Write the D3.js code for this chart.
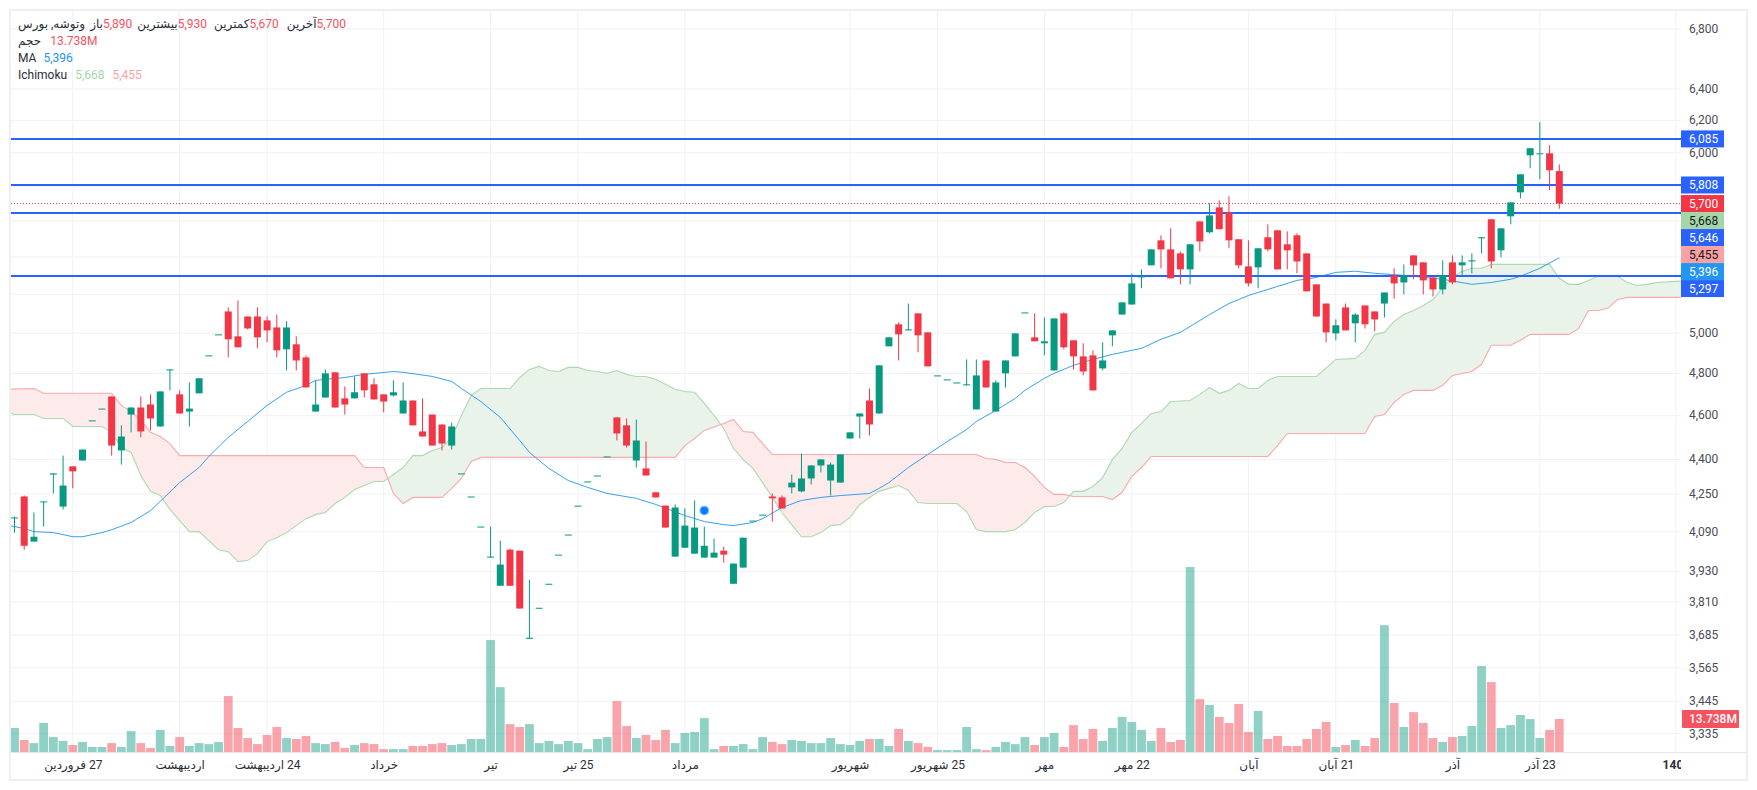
<!DOCTYPE html>
<html>
<head>
<meta charset="utf-8">
<script src="https://cdn.jsdelivr.net/npm/d3@7"></script>
<style>
  html, body { margin: 0; padding: 0; background: #fff; }
  svg { display: block; }
  text { font-family: Roboto, "DejaVu Sans", sans-serif; font-size: 12px; }
</style>
</head>
<body>
<div id="chart"></div>
<script>
// Daily candles
const opens = [
  4146,4239,4050,4214,4334,4196,4370,4396,4578,4633,
  4690,4441,4605,4638,4652,4550,4815,4700,4619,4705,
  4889,4994,5111,4984,5085,5085,5065,5029,4919,4944,
  4879,4619,4685,4806,4681,4681,4801,4748,4700,4695,
  4610,4671,4527,4605,4559,4463,4339,4239,4112,3985,
  3873,4017,4013,3671,3788,3881,3997,4079,4200,4304,
  4330,4414,4592,4555,4396,4361,4257,4200,3989,4025,
  4001,3985,3985,4013,3881,3945,4137,4162,4239,4235,
  4278,4261,4317,4374,4308,4299,4495,4596,4671,4610,
  4934,5045,5014,5101,5004,4791,4772,4757,4743,4629,
  4864,4619,4801,4884,5106,4979,4949,4815,5101,4964,
  4884,4889,4825,4989,5095,5147,5290,5355,5492,5442,
  5420,5333,5598,5537,5678,5650,5498,5349,5344,5509,
  5548,5470,5520,5420,5253,5152,4999,5132,5050,5142,
  5111,5152,5301,5263,5409,5371,5290,5226,5371,5355,
  5376,5503,5610,5437,5627,5765,5985,5991,5997,5890
];
const highs = [
  4154,4243,4171,4218,4339,4418,4370,4445,4578,4633,
  4690,4555,4638,4690,4700,4714,4820,4719,4757,4777,
  4889,4994,5132,5168,5085,5132,5085,5095,5060,4984,
  4889,4767,4820,4806,4738,4786,4801,4777,4700,4767,
  4757,4671,4681,4605,4559,4568,4339,4239,4112,4112,
  4054,4021,4013,3897,3788,3881,3997,4079,4200,4304,
  4330,4414,4592,4587,4582,4481,4257,4200,4205,4188,
  4222,4112,4062,4029,3961,4066,4137,4162,4252,4243,
  4334,4427,4374,4401,4387,4423,4523,4610,4728,4840,
  4979,5055,5152,5101,5004,4791,4772,4757,4869,4869,
  4864,4767,4864,4999,5106,5101,5080,5075,5106,4964,
  4949,4914,4954,5014,5158,5312,5333,5442,5520,5559,
  5431,5470,5598,5702,5719,5742,5498,5492,5448,5582,
  5548,5542,5531,5420,5253,5152,5070,5152,5101,5142,
  5111,5210,5339,5360,5409,5371,5290,5382,5409,5409,
  5420,5509,5610,5559,5707,5871,6028,6189,6046,5930
];
const lows = [
  4087,4017,4050,4112,4252,4184,4274,4396,4578,4633,
  4418,4378,4523,4500,4532,4550,4719,4610,4550,4705,
  4889,4994,4879,4929,5019,4924,4954,4879,4815,4815,
  4733,4619,4685,4638,4605,4681,4685,4676,4615,4690,
  4610,4555,4504,4463,4441,4445,4339,4239,4112,3985,
  3873,3873,3785,3671,3788,3881,3997,4079,4200,4304,
  4330,4414,4486,4454,4365,4330,4235,4108,3989,4025,
  4001,3985,3985,3965,3881,3945,4137,4162,4133,4188,
  4252,4257,4291,4343,4243,4299,4495,4495,4509,4610,
  4934,4864,5014,4904,4835,4791,4772,4757,4743,4629,
  4733,4619,4733,4884,5106,4959,4889,4815,4919,4820,
  4791,4719,4815,4934,5095,5147,5232,5355,5339,5285,
  5253,5253,5431,5531,5554,5448,5339,5242,5232,5431,
  5333,5333,5312,5216,5085,4954,4964,5014,4954,5024,
  5009,5080,5178,5200,5280,5200,5189,5200,5253,5301,
  5312,5420,5339,5398,5582,5730,5907,5842,5777,5670
];
const closes = [
  4150,4033,4070,4218,4339,4286,4348,4445,4578,4633,
  4463,4504,4638,4527,4587,4714,4820,4610,4633,4777,
  4889,4994,4969,4929,5024,4979,5014,4914,5029,4864,
  4733,4652,4801,4638,4652,4710,4719,4676,4666,4710,
  4671,4555,4504,4463,4472,4550,4339,4239,4112,3989,
  3957,3873,3785,3675,3788,3881,3997,4079,4200,4304,
  4330,4414,4518,4463,4486,4330,4235,4108,4192,4116,
  4108,4033,4005,3997,3961,4066,4137,4162,4231,4188,
  4299,4317,4374,4401,4378,4423,4523,4610,4559,4840,
  4979,4994,5019,4989,4835,4791,4772,4757,4748,4791,
  4733,4757,4864,4999,5106,4959,4959,5075,4929,4884,
  4810,4719,4864,5014,5158,5258,5296,5442,5442,5285,
  5333,5470,5486,5632,5554,5492,5355,5258,5448,5442,
  5333,5437,5376,5216,5085,5004,5040,5014,5095,5045,
  5070,5210,5258,5301,5355,5274,5226,5301,5263,5371,
  5382,5509,5376,5559,5707,5871,6028,5997,5895,5700
];
// Volume, millions
const volumes = [
  10,5,3.7,12.1,6.2,4.6,2.9,4.2,2.1,2.1,
  3.7,2.1,8.7,3.7,1.7,9.2,2.5,6.2,2.5,3.7,
  3.3,4.2,23.3,10,5.8,3.3,7.1,10.4,5.8,5.4,
  6.7,3.7,3.3,4.2,1.7,2.9,3.7,3.3,1.2,1.2,
  1.2,2.5,2.5,3.3,3.7,2.9,3.3,5.4,5.4,46.6,
  27,11.6,10.4,11.6,3.7,4.6,3.3,4.6,3.7,1.2,
  5.4,6.2,21.2,10.8,5.8,7.1,5,9.2,3.7,7.9,
  8.3,14.1,1.2,2.5,2.5,3.3,1.2,6.2,4.2,3.3,
  5,4.6,3.7,3.7,5.8,3.3,2.9,4.6,5.4,5.4,
  2.5,9.6,4.6,3.7,2.1,0.8,0.8,0.8,10.4,1.2,
  0.8,2.1,4.2,3.3,6.2,2.9,6.2,7.9,2.1,11.2,
  5.4,9.6,4.6,10,14.6,12.5,9.2,4.6,10,4.2,
  5,77,22,19.6,14.6,12.1,20,8.3,17.1,5.4,
  6.7,2.5,2.5,5.4,9.6,12.5,2.1,2.9,5,2.5,
  5.8,52.8,20.4,10.4,16.6,12.1,5.8,4.2,6.2,6.7,
  10.8,35.8,29.1,10,11.2,15.4,13.7,5.8,9.2,13.738
];

// Ichimoku span A: bar number, value
const spanAIdx = [-1,0,2,3,5,6,9,10,11,12,13,14,15,16,17,18,19,20,21,22,23,24,25,26,27,28,29,30,31,32,33,34,35,36,37,38,39,40,41,42,43,44,45,46,47,48,51,52,53,54,55,56,57,58,59,60,61,62,63,64,65,66,67,68,69,70,71,72,73,74,75,76,77,78,79,80,81,82,83,84,85,86,87,88,89,90,91,92,93,94,97,98,99,100,102,103,104,105,106,107,108,109,110,111,112,113,114,115,116,117,118,119,121,122,123,124,125,126,127,128,129,130,134,136,138,139,140,141,142,143,144,145,146,147,148,149,150,151,152,158,159,160,161,162,163,165,166,167,168,169,171,173];
const spanA = [4620,4605,4605,4587,4587,4550,4550,4523,4454,4432,4330,4261,4243,4184,4137,4091,4091,4054,4017,4009,3969,3973,4001,4050,4066,4087,4116,4145,4162,4171,4209,4235,4269,4286,4304,4304,4334,4365,4418,4418,4441,4454,4500,4601,4695,4728,4728,4781,4820,4835,4815,4810,4830,4830,4815,4810,4801,4815,4796,4786,4786,4772,4748,4724,4714,4710,4657,4601,4541,4450,4400,4361,4299,4235,4171,4120,4070,4070,4087,4116,4120,4150,4205,4235,4261,4274,4286,4265,4213,4209,4209,4175,4099,4091,4091,4099,4129,4171,4196,4196,4213,4261,4261,4282,4321,4401,4450,4523,4564,4610,4619,4666,4671,4700,4733,4705,4719,4752,4728,4728,4767,4786,4786,4869,4874,4914,4994,5004,5060,5095,5116,5142,5173,5237,5290,5323,5339,5339,5360,5360,5285,5253,5253,5274,5296,5296,5263,5247,5253,5263,5269,5274];

// Ichimoku span B
const spanBIdx = [-1,2,3,10,11,12,13,14,15,16,17,35,36,38,39,40,41,44,45,46,47,48,68,69,70,71,73,74,75,76,77,78,99,100,101,102,103,104,105,106,107,108,109,112,113,114,115,116,117,129,130,131,139,140,141,142,143,144,146,147,148,150,151,152,154,155,156,160,161,162,163,164,165,166,173];
const spanB = [4724,4728,4705,4705,4648,4619,4578,4523,4504,4472,4418,4418,4365,4365,4252,4209,4235,4235,4274,4317,4392,4410,4410,4463,4495,4532,4564,4582,4527,4523,4472,4423,4423,4405,4401,4387,4387,4365,4326,4278,4248,4248,4239,4239,4226,4257,4326,4365,4414,4414,4463,4518,4518,4596,4605,4662,4700,4719,4719,4743,4791,4810,4845,4939,4939,4964,4994,4994,5024,5116,5116,5127,5173,5184,5184];

// Moving average
const maIdx = [-1,1,2,4,6,7,9,10,12,14,15,17,19,20,22,24,26,28,30,31,34,36,39,40,43,45,46,48,50,52,53,55,57,59,61,64,66,69,71,73,74,76,77,79,81,83,85,88,89,90,92,94,96,98,99,101,103,104,106,107,109,111,113,116,118,120,123,125,127,130,132,134,136,138,140,143,147,150,152,154,155,157,159];
const ma = [4120,4104,4091,4087,4070,4070,4087,4099,4129,4179,4218,4299,4365,4414,4500,4573,4648,4710,4743,4767,4781,4796,4810,4806,4786,4762,4728,4666,4592,4486,4432,4361,4308,4278,4252,4231,4205,4158,4133,4120,4116,4129,4145,4192,4222,4235,4243,4252,4274,4299,4365,4423,4481,4536,4573,4624,4681,4719,4777,4801,4840,4869,4894,4924,4969,5004,5095,5152,5194,5242,5274,5290,5317,5323,5312,5301,5280,5253,5263,5280,5296,5339,5396];

// Price scale and time scale
const priceTicks = [6800,6400,6200,6000,5800,5600,5400,5200,5000,4800,4600,4400,4250,4090,3930,3810,3685,3565,3445,3335];
// these four sit behind the price tags, so only their grid line shows
const hiddenPriceLabels = [5800,5600,5400,5200];
const timeTickIdx = [6,17,26,38,49,58,69,86,95,106,115,127,136,148,157,171];
const timeTickLabels = ["27 فروردین","اردیبهشت","24 اردیبهشت","خرداد","تیر","25 تیر","مرداد","شهریور","25 شهریور","مهر","22 مهر","آبان","21 آبان","آذر","23 آذر","1404"];

// Horizontal levels, price tags, marker
const levels = [6085,5808,5646,5297];
const lastPrice = 5700;
const lastVolume = 13.738;
const priceTags = [
  { v: 6085, bg: "#2962ff", fg: "#fff" },
  { v: 5808, bg: "#2962ff", fg: "#fff" },
  { v: 5700, bg: "#f23645", fg: "#fff" },
  { v: 5668, bg: "#a5d6a7", fg: "#131722" },
  { v: 5646, bg: "#2962ff", fg: "#fff" },
  { v: 5455, bg: "#faa1a4", fg: "#131722" },
  { v: 5396, bg: "#2196f3", fg: "#fff" },
  { v: 5297, bg: "#2962ff", fg: "#fff" }
];
const markerIdx = 71;
const markerValue = 4179;

const width = 1757;
const height = 790;
const plotLeft = 11;
const plotRight = 1681;
const plotTop = 11;
const plotBottom = 752;

const green = "#089981";
const red = "#f23645";
const gridColor = "#f0f1f4";

const x = d3.scaleLinear().domain([0, 159]).range([14.5, 1559.3]);
const y = d3.scaleLog().domain([3274, 6932]).range([plotBottom, 10]);
const vol = d3.scaleLinear().domain([0, 77]).range([plotBottom, 567]);

const svg = d3.select("#chart").append("svg")
  .attr("width", width)
  .attr("height", height);

const defs = svg.append("defs");
defs.append("clipPath").attr("id", "plotClip").append("rect")
  .attr("x", plotLeft).attr("y", plotTop)
  .attr("width", plotRight - plotLeft).attr("height", plotBottom - plotTop);

const plot = svg.append("g").attr("clip-path", "url(#plotClip)");

// Grid
plot.append("g").selectAll("line")
  .data(priceTicks)
  .enter().append("line")
  .attr("x1", plotLeft).attr("x2", plotRight)
  .attr("y1", (d) => y(d)).attr("y2", (d) => y(d))
  .attr("stroke", gridColor).attr("stroke-width", 1);

plot.append("g").selectAll("line")
  .data(timeTickIdx)
  .enter().append("line")
  .attr("x1", (d) => x(d)).attr("x2", (d) => x(d))
  .attr("y1", plotTop).attr("y2", plotBottom)
  .attr("stroke", gridColor).attr("stroke-width", 1);

// Volume bars
plot.append("g").selectAll("rect")
  .data(volumes)
  .enter().append("rect")
  .attr("x", (d, i) => x(i) - 4.4)
  .attr("width", 8.8)
  .attr("y", (d) => vol(d))
  .attr("height", (d) => plotBottom - vol(d))
  .attr("fill", (d, i) => (closes[i] >= opens[i] ? green : red))
  .attr("opacity", 0.45);

// Ichimoku cloud: one outline, clipped either side of span A
const aPoints = spanAIdx.map((d, i) => [x(d), y(spanA[i])]);
const bPoints = spanBIdx.map((d, i) => [x(d), y(spanB[i])]);
const line = d3.line();
const cloudPath = line(aPoints.concat(bPoints.slice().reverse())) + "Z";
const aFirst = aPoints[0][0];
const aLast = aPoints[aPoints.length - 1][0];

defs.append("clipPath").attr("id", "belowA").append("path")
  .attr("d", line(aPoints.concat([[aLast, height], [aFirst, height]])) + "Z");
defs.append("clipPath").attr("id", "aboveA").append("path")
  .attr("d", line(aPoints.concat([[aLast, 0], [aFirst, 0]])) + "Z");

plot.append("path").attr("d", cloudPath)
  .attr("fill", "#e9f3ea").attr("clip-path", "url(#belowA)");
plot.append("path").attr("d", cloudPath)
  .attr("fill", "#fdeaea").attr("clip-path", "url(#aboveA)");

plot.append("path").attr("d", line(bPoints))
  .attr("fill", "none").attr("stroke", "#faa1a4").attr("stroke-width", 1.1).attr("opacity", 0.9);
plot.append("path").attr("d", line(aPoints))
  .attr("fill", "none").attr("stroke", "#a5d6a7").attr("stroke-width", 1.1).attr("opacity", 0.9);

// Moving average
plot.append("path")
  .attr("d", line(maIdx.map((d, i) => [x(d), y(ma[i])])))
  .attr("fill", "none").attr("stroke", "#2196f3").attr("stroke-width", 1).attr("opacity", 0.9);

// Level lines
plot.append("g").selectAll("line")
  .data(levels)
  .enter().append("line")
  .attr("x1", plotLeft).attr("x2", plotRight)
  .attr("y1", (d) => y(d)).attr("y2", (d) => y(d))
  .attr("stroke", "#2962ff").attr("stroke-width", 2);

// Last price line
plot.append("line")
  .attr("x1", plotLeft).attr("x2", plotRight)
  .attr("y1", y(lastPrice)).attr("y2", y(lastPrice))
  .attr("stroke", red).attr("stroke-width", 1)
  .attr("stroke-dasharray", "1 2");

// Candles
const candles = plot.append("g").selectAll("g")
  .data(opens)
  .enter().append("g")
  .attr("fill", (d, i) => (closes[i] >= d ? green : red))
  .attr("stroke", (d, i) => (closes[i] >= d ? green : red));

candles.append("line")
  .attr("x1", (d, i) => x(i)).attr("x2", (d, i) => x(i))
  .attr("y1", (d, i) => y(highs[i]))
  .attr("y2", (d, i) => y(lows[i]))
  .attr("stroke-width", 1);

candles.append("rect")
  .attr("x", (d, i) => x(i) - 3.5)
  .attr("width", 7)
  .attr("y", (d, i) => y(Math.max(d, closes[i])))
  .attr("height", (d, i) => Math.max(1, Math.abs(y(d) - y(closes[i]))))
  .attr("stroke", "none");

// Marker dot
plot.append("circle")
  .attr("cx", x(markerIdx)).attr("cy", y(markerValue)).attr("r", 5)
  .attr("fill", "#2196f3").attr("opacity", 0.5);
plot.append("circle")
  .attr("cx", x(markerIdx)).attr("cy", y(markerValue)).attr("r", 3.8)
  .attr("fill", "#0a7cff");

// Pane separator
svg.append("line")
  .attr("x1", plotLeft).attr("x2", 1746)
  .attr("y1", plotBottom + 0.5).attr("y2", plotBottom + 0.5)
  .attr("stroke", "#e3e5ec").attr("stroke-width", 1);

// Time axis
const timeAxis = svg.append("g")
  .attr("transform", `translate(0,${plotBottom + 3})`)
  .call(d3.axisBottom(x)
    .tickValues(timeTickIdx)
    .tickFormat((d, i) => timeTickLabels[i])
    .tickSize(0)
    .tickPadding(5));
timeAxis.select(".domain").remove();
timeAxis.selectAll("text")
  .style("font-family", 'Roboto, "DejaVu Sans", sans-serif')
  .style("font-size", "12px")
  .style("direction", "rtl")
  .attr("fill", "#2a2e39")
  .style("font-weight", (d, i) => (i === timeTickIdx.length - 1 ? "700" : "400"));

// Price axis sits on a white strip that cuts the last time label
svg.append("rect")
  .attr("x", plotRight).attr("y", plotTop)
  .attr("width", 1747 - plotRight).attr("height", plotBottom - plotTop)
  .attr("fill", "#fff");
svg.append("rect")
  .attr("x", plotRight).attr("y", plotBottom + 1)
  .attr("width", 1747 - plotRight).attr("height", 27)
  .attr("fill", "#fff");

const priceAxis = svg.append("g")
  .attr("transform", `translate(${plotRight},-0.5)`)
  .call(d3.axisRight(y)
    .tickValues(priceTicks.filter((d) => !hiddenPriceLabels.includes(d)))
    .tickFormat(d3.format(","))
    .tickSize(0)
    .tickPadding(8));
priceAxis.select(".domain").remove();
priceAxis.selectAll("text")
  .style("font-family", 'Roboto, "DejaVu Sans", sans-serif')
  .style("font-size", "12px")
  .attr("fill", "#4a4d57");

// Price tags, pushed down so they do not overlap
const tagHeight = 17;
let tagBottom = 0;
const tagCentres = priceTags.map((t) => {
  const c = Math.max(y(t.v), tagBottom + tagHeight / 2);
  tagBottom = c + tagHeight / 2;
  return c;
});

const tags = svg.append("g").selectAll("g")
  .data(priceTags)
  .enter().append("g")
  .attr("transform", (d, i) => `translate(${plotRight},${tagCentres[i]})`);
tags.append("rect")
  .attr("y", -tagHeight / 2)
  .attr("width", 43)
  .attr("height", tagHeight)
  .attr("fill", (d) => d.bg);
tags.append("text")
  .attr("x", 8)
  .attr("dy", "0.36em")
  .attr("fill", (d) => d.fg)
  .text((d) => d3.format(",")(d.v));

// Volume tag
svg.append("rect")
  .attr("x", plotRight + 1)
  .attr("y", vol(lastVolume) - 9)
  .attr("width", 57)
  .attr("height", 18)
  .attr("rx", 1)
  .attr("fill", "#f7525f");
svg.append("text")
  .attr("x", plotRight + 8)
  .attr("y", vol(lastVolume))
  .attr("dy", "0.36em")
  .attr("fill", "#fff")
  .style("font-weight", 500)
  .text(`${lastVolume}M`);

// Legend rows
const legendRows = [
  [
    { t: "وتوشه, بورس", c: "#2a2e39", gap: 5 },
    { t: "باز", c: "#2a2e39", gap: 0 },
    { t: "5,890", c: "#f7525f", gap: 5 },
    { t: "بیشترین", c: "#2a2e39", gap: 0 },
    { t: "5,930", c: "#f7525f", gap: 7 },
    { t: "کمترین", c: "#2a2e39", gap: 0 },
    { t: "5,670", c: "#f7525f", gap: 8 },
    { t: "آخرین", c: "#2a2e39", gap: 0 },
    { t: "5,700", c: "#f7525f", gap: 0 }
  ],
  [
    { t: "حجم", c: "#2a2e39", gap: 9 },
    { t: "13.738M", c: "#f7525f", gap: 0 }
  ],
  [
    { t: "MA", c: "#2a2e39", gap: 7 },
    { t: "5,396", c: "#2196f3", gap: 0 }
  ],
  [
    { t: "Ichimoku", c: "#2a2e39", gap: 8 },
    { t: "5,668", c: "#a5d6a7", gap: 8 },
    { t: "5,455", c: "#faa1a4", gap: 0 }
  ]
];

const legend = svg.append("g");
legendRows.forEach((row, r) => {
  let cx = 18;
  row.forEach((item) => {
    const label = legend.append("text")
      .attr("x", cx)
      .attr("y", 28 + r * 17)
      .attr("fill", item.c)
      .text(item.t);
    cx += label.node().getComputedTextLength() + item.gap;
  });
});

// Outer frame
svg.append("rect")
  .attr("x", 10).attr("y", 10)
  .attr("width", 1737).attr("height", 770)
  .attr("fill", "none")
  .attr("stroke", "#eeeff3").attr("stroke-width", 2);
</script>
</body>
</html>
